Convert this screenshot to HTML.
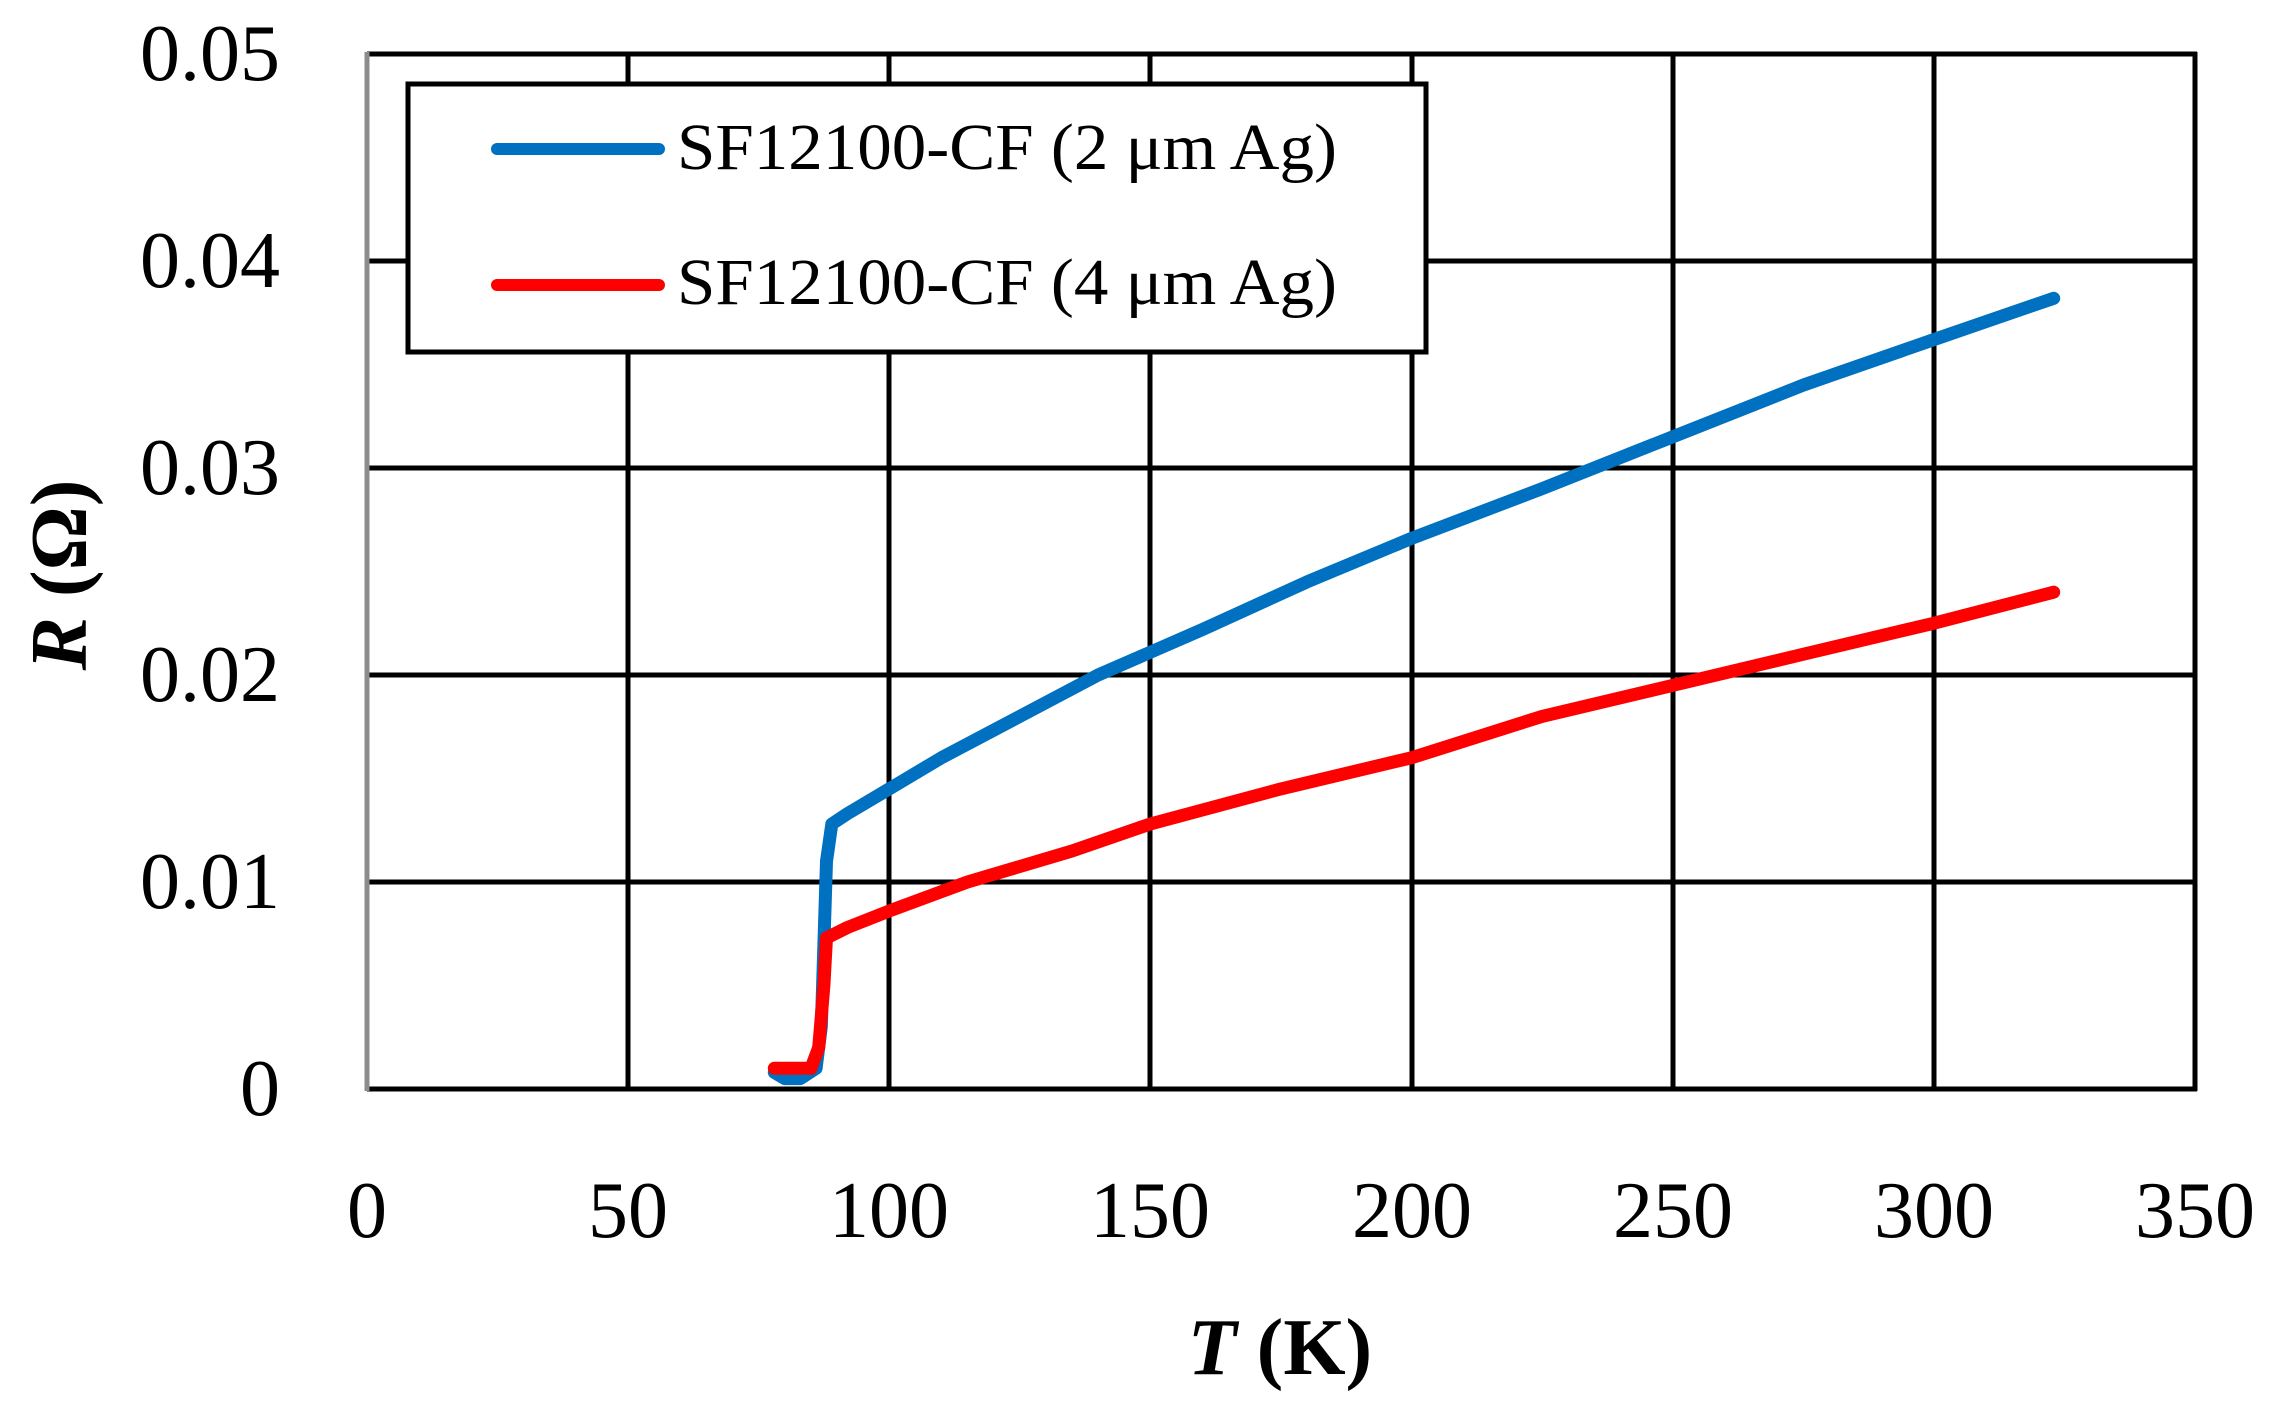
<!DOCTYPE html>
<html><head><meta charset="utf-8"><style>
html,body{margin:0;padding:0;background:#fff;}
svg{display:block;}
text{font-family:"Liberation Serif",serif;fill:#000;}
</style></head><body>
<svg width="2280" height="1409" viewBox="0 0 2280 1409" xmlns="http://www.w3.org/2000/svg">
<g stroke="#000" stroke-width="5">
<line x1="367" y1="54" x2="2197" y2="54"/>
<line x1="367" y1="261" x2="2197" y2="261"/>
<line x1="367" y1="468" x2="2197" y2="468"/>
<line x1="367" y1="675" x2="2197" y2="675"/>
<line x1="367" y1="882" x2="2197" y2="882"/>
<line x1="367" y1="1089" x2="2197" y2="1089"/>
<line x1="628" y1="52" x2="628" y2="1089"/>
<line x1="889" y1="52" x2="889" y2="1089"/>
<line x1="1150" y1="52" x2="1150" y2="1089"/>
<line x1="1412" y1="52" x2="1412" y2="1089"/>
<line x1="1673" y1="52" x2="1673" y2="1089"/>
<line x1="1934" y1="52" x2="1934" y2="1089"/>
<line x1="2195" y1="52" x2="2195" y2="1091"/>
</g>
<line x1="367" y1="52" x2="367" y2="1091" stroke="#8c8c8c" stroke-width="5"/>
<g fill="none" stroke-width="13" stroke-linejoin="round" stroke-linecap="round">
<polyline stroke="#0070C0" points="774.3,1072.4 784.8,1078.6 800.4,1078.6 816.1,1068.3 821.3,1026.9 826.5,861.3 831.8,824 847.4,813.7 889.2,788.9 941.4,757.8 1019.8,716.4 1098.1,675 1202.5,629.5 1307,581.9 1411.4,538.4 1542,488.7 1672.5,436.9 1803,385.2 1933.6,339.7 2053.7,298.3"/>
<polyline stroke="#FF0000" points="774.3,1068.3 810.9,1068.3 818.7,1047.6 823.9,985.5 826.5,937.9 847.4,927.5 889.2,911 967.5,882 1072,851 1150.3,824 1280.9,788.9 1411.4,757.8 1542,716.4 1672.5,685.4 1803,654.3 1933.6,623.3 2053.7,592.2"/>
</g>
<rect x="408" y="84" width="1018" height="268" fill="#fff" stroke="#000" stroke-width="5"/>
<line x1="497" y1="149" x2="659" y2="149" stroke="#0070C0" stroke-width="12" stroke-linecap="round"/>
<line x1="497" y1="285" x2="659" y2="285" stroke="#FF0000" stroke-width="12" stroke-linecap="round"/>
<text x="677" y="169" font-size="66" textLength="660" lengthAdjust="spacingAndGlyphs">SF12100-CF (2 μm Ag)</text>
<text x="677" y="304" font-size="66" textLength="660" lengthAdjust="spacingAndGlyphs">SF12100-CF (4 μm Ag)</text>
<g font-size="80" text-anchor="end">
<text x="280" y="80">0.05</text>
<text x="280" y="287">0.04</text>
<text x="280" y="494">0.03</text>
<text x="280" y="701">0.02</text>
<text x="280" y="908">0.01</text>
<text x="280" y="1115">0</text>
</g>
<g font-size="80" text-anchor="middle">
<text x="367" y="1237">0</text>
<text x="628" y="1237">50</text>
<text x="889" y="1237">100</text>
<text x="1150" y="1237">150</text>
<text x="1412" y="1237">200</text>
<text x="1673" y="1237">250</text>
<text x="1934" y="1237">300</text>
<text x="2195" y="1237">350</text>
</g>
<text x="1280" y="1374" font-size="80" font-weight="bold" text-anchor="middle"><tspan font-style="italic">T</tspan> (K)</text>
<text transform="translate(86,575) rotate(-90)" font-size="80" font-weight="bold" text-anchor="middle"><tspan font-style="italic">R</tspan> (Ω)</text>
</svg>
</body></html>
